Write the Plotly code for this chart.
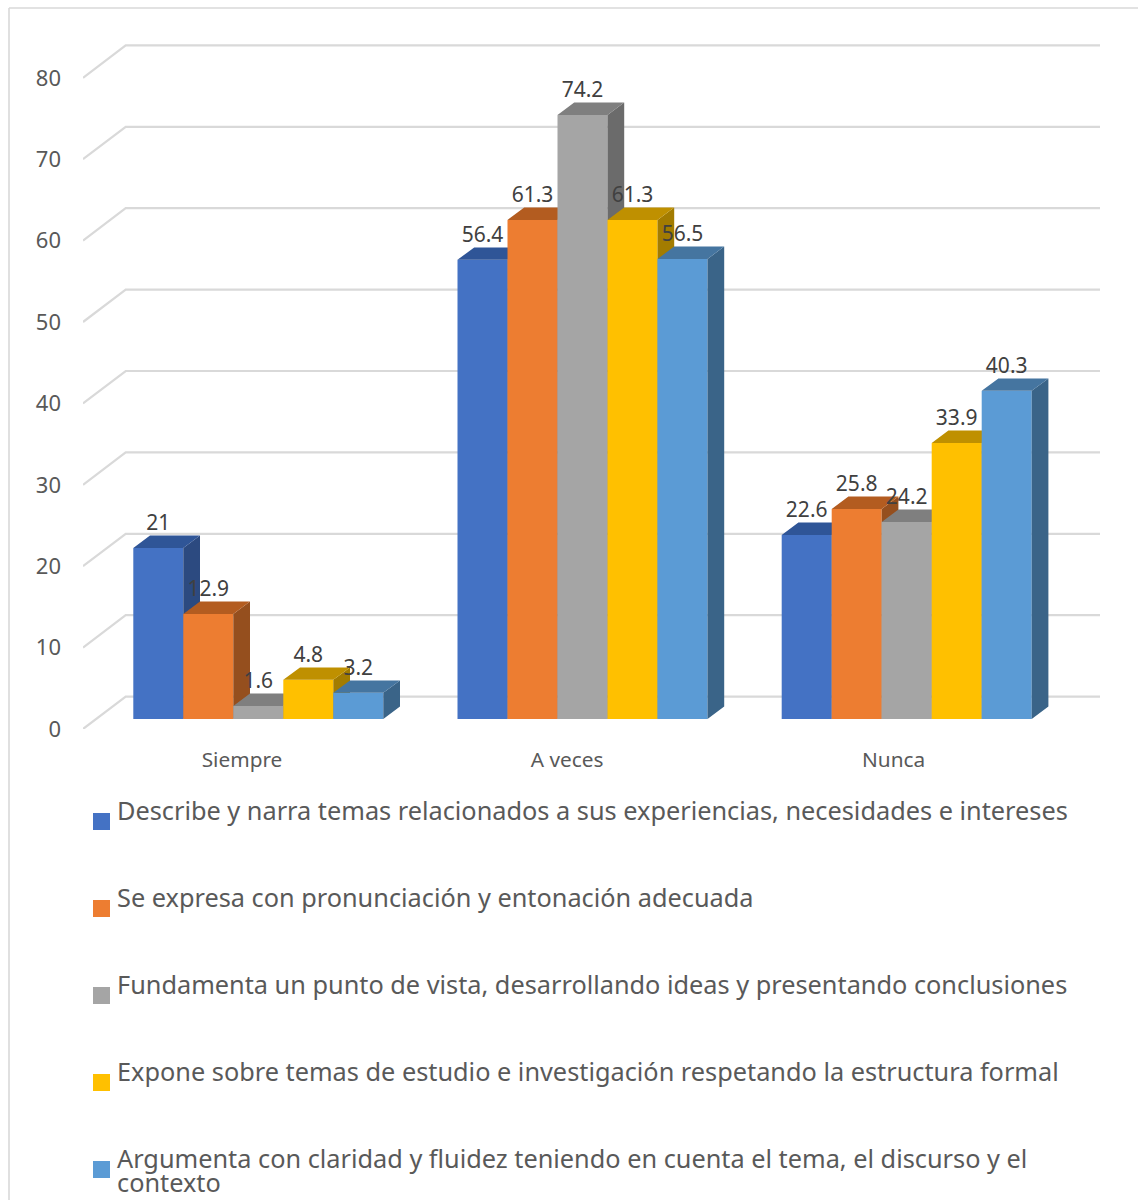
import plotly.graph_objects as go

categories = ["Siempre", "A veces", "Nunca"]
series_names = [
    "Describe y narra temas relacionados a sus experiencias, necesidades e intereses",
    "Se expresa con pronunciación y entonación adecuada",
    "Fundamenta un punto de vista, desarrollando ideas y presentando conclusiones",
    "Expone sobre temas de estudio e investigación respetando la estructura formal",
    "Argumenta con claridad y fluidez teniendo en cuenta el tema, el discurso y el<br>contexto",
]
s1 = [21, 56.4, 22.6]
s2 = [12.9, 61.3, 25.8]
s3 = [1.6, 74.2, 24.2]
s4 = [4.8, 61.3, 33.9]
s5 = [3.2, 56.5, 40.3]
series = [s1, s2, s3, s4, s5]
y_ticks = [0, 10, 20, 30, 40, 50, 60, 70, 80]
front = ["#4472C4", "#ED7D31", "#A5A5A5", "#FFC000", "#5B9BD5"]
side = ["#2C4A80", "#954F1E", "#6B6B6B", "#A37C00", "#3A6488"]
top = ["#2F5597", "#B35C20", "#7F7F7F", "#BF9000", "#4575A0"]

W, H = 1138, 1200
L, R, T, B = 83, 1100, 40, 729        # plot rectangle, px
PX_X = 324.2                           # px per category
PX_Y = 8.14                            # px per value unit
X0 = 242                               # px of category 0 on front plane
FONT = "Noto Sans"

x_range = [(L - X0) / PX_X, (R - X0) / PX_X]
y_range = [0, (B - T) / PX_Y]
bar_shift = (B - 718.9) / PX_Y         # floor of the bars above the front floor
wall_shift = (B - 696.6) / PX_Y        # back wall above the front floor
bw = 50 / PX_X
dx = 16.7 / PX_X
dy = 12.4 / PX_Y
group_off = (258.3 - X0) / PX_X
wall_x = (125.7 - X0) / PX_X


def xpaper(px):
    return (px - L) / (R - L)


def ypaper(py):
    return (B - py) / (B - T)


fig = go.Figure()

# back wall gridlines + floor diagonals on the base axes
gx, gy = [], []
for t in y_ticks:
    gx += [x_range[0], wall_x, x_range[1], None]
    gy += [t, t + wall_shift, t + wall_shift, None]
fig.add_trace(go.Scatter(x=gx, y=gy, mode="lines", line=dict(color="#D9D9D9", width=2.2),
                         hoverinfo="skip", showlegend=False, xaxis="x", yaxis="y"))

layout_axes = {}
for j, vals in enumerate(series):
    n = j + 2
    xa, ya = f"x{n}", f"y{n}"
    xs = [i + group_off + (j - 2) * bw for i in range(len(categories))]
    fig.add_trace(go.Bar(x=xs, y=vals, width=bw, name=series_names[j].replace("<br>", " "),
                         marker=dict(color=front[j], line=dict(width=0)),
                         showlegend=False, xaxis=xa, yaxis=ya))
    sx, sy, tx, ty = [], [], [], []
    for x, v in zip(xs, vals):
        xl, xr = x - bw / 2, x + bw / 2
        sx += [xr, xr + dx, xr + dx, xr, xr, None]
        sy += [0, dy, v + dy, v, 0, None]
        tx += [xl, xl + dx, xr + dx, xr, xl, None]
        ty += [v, v + dy, v + dy, v, v, None]
    for px_, py_, col in ((sx, sy, side[j]), (tx, ty, top[j])):
        fig.add_trace(go.Scatter(x=px_, y=py_, mode="lines", fill="toself", fillcolor=col,
                                 line=dict(width=0, color=col), hoverinfo="skip",
                                 showlegend=False, xaxis=xa, yaxis=ya))
    layout_axes[f"xaxis{n}"] = dict(overlaying="x", range=x_range, visible=False, anchor=ya)
    layout_axes[f"yaxis{n}"] = dict(overlaying="y", range=[y_range[0] - bar_shift, y_range[1] - bar_shift],
                                    visible=False, anchor=xa)

# data labels above everything, on the last overlay
last = len(series) + 1
lx, ly, lt = [], [], []
for j, vals in enumerate(series):
    for i, v in enumerate(vals):
        lx.append(i + group_off + (j - 2) * bw)
        ly.append(v + 23.5 / PX_Y)
        lt.append(str(v))
fig.add_trace(go.Scatter(x=lx, y=ly, text=lt, mode="text", textposition="middle center",
                         textfont=dict(family=FONT, size=21, color="#404040"),
                         hoverinfo="skip", showlegend=False, xaxis=f"x{last}", yaxis=f"y{last}"))

# legend (square + text)
shapes = []
annotations = []
for j, name in enumerate(series_names):
    top_px = 813 + 87 * j
    shapes.append(dict(type="rect", xref="paper", yref="paper", layer="above",
                       x0=xpaper(93), x1=xpaper(110), y0=ypaper(top_px), y1=ypaper(top_px + 17),
                       fillcolor=front[j], line=dict(width=0)))
    for k, line in enumerate(name.split("<br>")):
        annotations.append(dict(xref="paper", yref="paper", x=xpaper(116), y=ypaper(810 + 87 * j + 24 * k),
                                text=line, showarrow=False, xanchor="left", yanchor="middle",
                                align="left", borderpad=0,
                                font=dict(family=FONT, size=25.3, color="#595959")))

# chart frame
frame = dict(type="line", xref="paper", yref="paper", line=dict(color="#D9D9D9", width=1.6), layer="below")
shapes.append({**frame, "x0": xpaper(9), "x1": xpaper(9), "y0": ypaper(8), "y1": ypaper(1200)})
shapes.append({**frame, "x0": xpaper(9), "x1": xpaper(1138), "y0": ypaper(8), "y1": ypaper(8)})

fig.update_layout(
    width=W, height=H, margin=dict(l=L, r=W - R, t=T, b=H - B, autoexpand=False),
    paper_bgcolor="white", plot_bgcolor="rgba(0,0,0,0)", showlegend=False,
    shapes=shapes, annotations=annotations,
    xaxis=dict(range=x_range, tickmode="array", tickvals=[0, 1.003, 2.01], ticktext=categories,
               showgrid=False, zeroline=False, showline=False, ticks="", ticklabelstandoff=16,
               tickfont=dict(family=FONT, size=20.8, color="#595959")),
    yaxis=dict(range=y_range, tickmode="array", tickvals=y_ticks, showgrid=False, zeroline=False,
               showline=False, ticks="", ticklabelstandoff=21,
               tickfont=dict(family=FONT, size=22, color="#595959")),
    **layout_axes,
)

fig.write_html("out.html", post_script="document.body.style.margin='0';",
               config={"displayModeBar": False})
